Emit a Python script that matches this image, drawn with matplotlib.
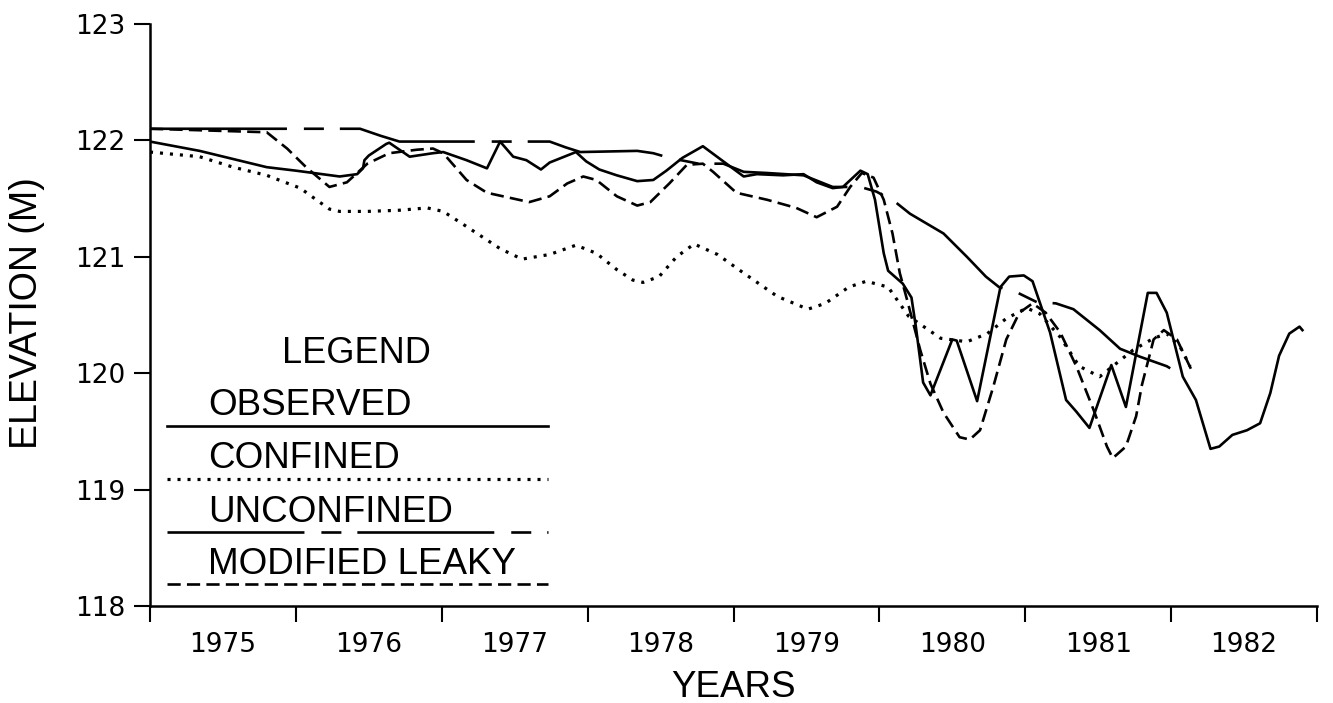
import matplotlib
matplotlib.use("Agg")
import matplotlib.pyplot as plt

# hydrograph: observed vs three model runs
obs_year = [1975.00, 1975.34, 1975.57, 1975.80, 1976.00, 1976.12, 1976.30, 1976.42, 1976.46, 1976.47,
            1976.50, 1976.62, 1976.64, 1976.71, 1976.78, 1976.94, 1977.01, 1977.17, 1977.31, 1977.40,
            1977.49, 1977.58, 1977.68, 1977.74, 1977.92, 1977.99, 1978.08, 1978.20, 1978.34, 1978.45,
            1978.54, 1978.65, 1978.79, 1978.93, 1979.07, 1979.16, 1979.34, 1979.48, 1979.57, 1979.68,
            1979.75, 1979.87, 1979.92, 1979.97, 1980.03, 1980.06, 1980.16, 1980.22, 1980.25, 1980.30,
            1980.35, 1980.50, 1980.53, 1980.67, 1980.83, 1980.89, 1980.99, 1981.05, 1981.17, 1981.28,
            1981.35, 1981.44, 1981.59, 1981.69, 1981.84, 1981.90, 1981.97, 1982.08, 1982.17, 1982.27,
            1982.33, 1982.42, 1982.52, 1982.61, 1982.68, 1982.74, 1982.81, 1982.88, 1982.90]
obs_elev = [121.99, 121.91, 121.84, 121.77, 121.74, 121.72, 121.69, 121.71, 121.76, 121.83,
            121.87, 121.97, 121.98, 121.92, 121.86, 121.89, 121.90, 121.83, 121.76, 121.99,
            121.86, 121.83, 121.75, 121.81, 121.90, 121.82, 121.75, 121.70, 121.65, 121.66,
            121.74, 121.85, 121.95, 121.82, 121.69, 121.71, 121.70, 121.71, 121.64, 121.59,
            121.60, 121.74, 121.71, 121.49, 121.03, 120.88, 120.77, 120.65, 120.40, 119.92,
            119.81, 120.29, 120.28, 119.76, 120.74, 120.83, 120.84, 120.79, 120.35, 119.77,
            119.67, 119.53, 120.07, 119.71, 120.69, 120.69, 120.52, 119.97, 119.77, 119.35,
            119.37, 119.47, 119.51, 119.57, 119.83, 120.15, 120.34, 120.40, 120.37]

conf_year = [1975.00, 1975.34, 1975.57, 1975.80, 1976.03, 1976.14, 1976.23, 1976.30, 1976.49, 1976.71,
             1976.90, 1977.01, 1977.17, 1977.40, 1977.55, 1977.74, 1977.92, 1978.06, 1978.20, 1978.31,
             1978.38, 1978.49, 1978.61, 1978.73, 1978.89, 1979.07, 1979.30, 1979.51, 1979.63, 1979.79,
             1979.91, 1980.06, 1980.20, 1980.42, 1980.60, 1980.74, 1980.87, 1981.01, 1981.10, 1981.24,
             1981.37, 1981.51, 1981.60, 1981.74, 1981.88, 1981.97, 1982.06, 1982.13]
conf_elev = [121.90, 121.86, 121.77, 121.70, 121.59, 121.49, 121.41, 121.39, 121.39, 121.40,
             121.42, 121.39, 121.26, 121.07, 120.98, 121.02, 121.10, 121.03, 120.89, 120.80,
             120.78, 120.83, 121.00, 121.11, 121.02, 120.86, 120.66, 120.55, 120.60, 120.74,
             120.79, 120.74, 120.49, 120.30, 120.27, 120.34, 120.47, 120.56, 120.51, 120.31,
             120.06, 119.97, 120.06, 120.20, 120.30, 120.34, 120.23, 120.06]

unconf_year = [1975.00, 1976.44, 1976.58, 1976.71, 1977.74, 1977.85, 1977.95, 1978.34, 1978.45, 1978.56,
               1978.76, 1978.93, 1979.07, 1979.23, 1979.48, 1979.68, 1979.87, 1979.98, 1980.11, 1980.21,
               1980.44, 1980.60, 1980.73, 1980.82, 1980.95, 1981.08, 1981.21, 1981.33, 1981.51, 1981.65,
               1981.79, 1981.97, 1982.09]
unconf_elev = [122.10, 122.10, 122.04, 121.99, 121.99, 121.94, 121.90, 121.91, 121.89, 121.85,
               121.80, 121.80, 121.73, 121.72, 121.70, 121.60, 121.60, 121.56, 121.47, 121.37,
               121.20, 121.00, 120.83, 120.74, 120.69, 120.61, 120.60, 120.55, 120.37, 120.21,
               120.14, 120.06, 119.97]

leaky_year = [1975.00, 1975.80, 1975.94, 1976.07, 1976.23, 1976.35, 1976.49, 1976.64, 1976.83, 1976.94,
              1977.01, 1977.17, 1977.31, 1977.60, 1977.74, 1977.86, 1977.97, 1978.06, 1978.20, 1978.34,
              1978.43, 1978.56, 1978.68, 1978.79, 1978.86, 1979.02, 1979.23, 1979.43, 1979.57, 1979.71,
              1979.80, 1979.88, 1979.96, 1980.03, 1980.09, 1980.14, 1980.19, 1980.28, 1980.35, 1980.44,
              1980.55, 1980.62, 1980.69, 1980.78, 1980.87, 1980.96, 1981.05, 1981.14, 1981.24, 1981.35,
              1981.47, 1981.56, 1981.60, 1981.69, 1981.76, 1981.80, 1981.88, 1981.95, 1982.04, 1982.15]
leaky_elev = [122.10, 122.07, 121.93, 121.77, 121.60, 121.64, 121.80, 121.89, 121.92, 121.93,
              121.89, 121.66, 121.55, 121.47, 121.52, 121.63, 121.69, 121.66, 121.52, 121.44,
              121.47, 121.63, 121.79, 121.80, 121.73, 121.55, 121.49, 121.42, 121.34, 121.43,
              121.60, 121.72, 121.68, 121.49, 121.20, 120.86, 120.63, 120.20, 119.91, 119.66,
              119.45, 119.43, 119.51, 119.88, 120.29, 120.52, 120.60, 120.52, 120.35, 120.06,
              119.68, 119.37, 119.27, 119.37, 119.63, 119.90, 120.29, 120.37, 120.29, 120.00]

year_ticks = [1975, 1976, 1977, 1978, 1979, 1980, 1981, 1982, 1983]
year_labels = ['1975', '1976', '1977', '1978', '1979', '1980', '1981', '1982']
elev_ticks = [118, 119, 120, 121, 122, 123]

legend_names = ['OBSERVED', 'CONFINED', 'UNCONFINED', 'MODIFIED LEAKY']

plt.rcParams['lines.scale_dashes'] = False
narrow = ['Liberation Sans Narrow', 'Liberation Sans', 'DejaVu Sans']

ls_obs = '-'
ls_conf = (0, (2.2, 5.0))
ls_unconf = (0, (98.6, 12.2, 14.4, 11.5))
ls_leaky = (0, (9.5, 4.5))
styles = [(ls_obs, 1.9), (ls_conf, 2.3), (ls_unconf, 1.9), (ls_leaky, 1.9)]

fig = plt.figure(figsize=(13.33, 7.03), dpi=100)
ax = fig.add_axes([150/1333, 1-606/703, 1167/1333, 582/703])

ax.plot(obs_year, obs_elev, color='black', ls=ls_obs, lw=1.9)
ax.plot(conf_year, conf_elev, color='black', ls=ls_conf, lw=2.3, dash_capstyle='butt')
ax.plot(unconf_year, unconf_elev, color='black', ls=ls_unconf, lw=1.9)
ax.plot(leaky_year, leaky_elev, color='black', ls=ls_leaky, lw=1.9)

ax.set_xlim(1975, 1983)
ax.set_ylim(118, 123)
for s in ['top', 'right']:
    ax.spines[s].set_visible(False)
for s in ['left', 'bottom']:
    ax.spines[s].set_linewidth(1.8)

ax.set_xticks(year_ticks)
ax.set_xticklabels([])
ax.set_xticks([y + 0.5 for y in year_ticks[:-1]], minor=True)
ax.set_xticklabels(year_labels, minor=True)
ax.set_yticks(elev_ticks)
ax.set_yticklabels([str(v) for v in elev_ticks])
ax.tick_params(axis='x', which='major', direction='out', length=11.5, width=1.5)
ax.tick_params(axis='x', which='minor', length=0, pad=18.5, labelsize=19)
ax.tick_params(axis='y', direction='out', length=11.5, width=1.5, pad=6, labelsize=19)

fig.text(733/1333, 1-697/703, 'YEARS', ha='center', va='baseline', fontsize=26.5, family=narrow)
fig.text(27/1333, 1-313/703, 'ELEVATION (M)', rotation=90, ha='center', va='center',
         fontsize=27, family=narrow)

# hand-drawn style legend block
ax.text(0.177, 0.4175, 'LEGEND', transform=ax.transAxes, ha='center', va='baseline',
        fontsize=26, family=narrow)
text_y = [0.328, 0.237, 0.144, 0.055]
line_y = [0.309, 0.218, 0.127, 0.0378]
for name, ty, ly, (ls, lw) in zip(legend_names, text_y, line_y, styles):
    ax.text(0.0497, ty, name, transform=ax.transAxes, ha='left', va='baseline',
            fontsize=26.5, family=narrow)
    ax.plot([0.0146, 0.341], [ly, ly], transform=ax.transAxes, color='black', ls=ls, lw=lw,
            dash_capstyle='butt', clip_on=False)

fig.savefig('out.png', dpi=100)
